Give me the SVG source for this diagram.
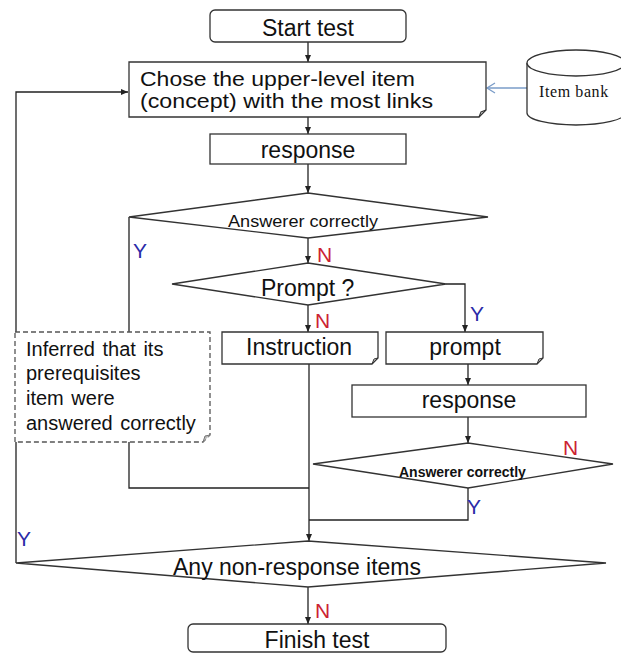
<svg xmlns="http://www.w3.org/2000/svg" width="621" height="653" viewBox="0 0 621 653">
<defs>
<marker id="ah" markerWidth="8" markerHeight="8" refX="7" refY="4" orient="auto" markerUnits="userSpaceOnUse">
<path d="M0,1 L7,4 L0,7 Z" fill="#222"/>
</marker>
<style>
.box{fill:#fff;stroke:#333;stroke-width:1.3}
.ln{fill:none;stroke:#222;stroke-width:1.3}
.t{font-family:"Liberation Sans",Arial,sans-serif;font-size:23px;fill:#111}
.s{font-family:"Liberation Sans",Arial,sans-serif;font-size:20px;fill:#111}
.y{font-family:"Liberation Sans",Arial,sans-serif;font-size:21px;fill:#2b2ba8}
.n{font-family:"Liberation Sans",Arial,sans-serif;font-size:21px;fill:#cc2233}
</style>
</defs>
<rect width="621" height="653" fill="#fff"/>
<g id="connectors">
<line class="ln" x1="308" y1="42" x2="308" y2="62" marker-end="url(#ah)"/>
<line class="ln" x1="308" y1="117" x2="308" y2="134" marker-end="url(#ah)"/>
<line class="ln" x1="308" y1="164" x2="308" y2="193" marker-end="url(#ah)"/>
<line x1="527" y1="88" x2="487" y2="88" stroke="#7a9cc8" stroke-width="1.3"/>
<polyline points="495,83 487,88 495,93" fill="none" stroke="#7a9cc8" stroke-width="1.3"/>
<line class="ln" x1="308" y1="238" x2="308" y2="263" marker-end="url(#ah)"/>
<line class="ln" x1="308" y1="305" x2="308" y2="332" marker-end="url(#ah)"/>
<polyline class="ln" points="446,284 465,284 465,332" marker-end="url(#ah)"/>
<line class="ln" x1="468" y1="364" x2="468" y2="385" marker-end="url(#ah)"/>
<line class="ln" x1="468" y1="417" x2="468" y2="443" marker-end="url(#ah)"/>
<polyline class="ln" points="129,217 129,488 309,488"/>
<line class="ln" x1="309" y1="364" x2="309" y2="541" marker-end="url(#ah)"/>
<polyline class="ln" points="468,488 468,520 309,520"/>
<polyline class="ln" points="16,563 16,92 128,92" marker-end="url(#ah)"/>
<line class="ln" x1="308" y1="587" x2="308" y2="624" marker-end="url(#ah)"/>
</g>
<g id="start"><rect class="box" x="210" y="10" width="196" height="32" rx="5"/><text class="t" x="308" y="36" text-anchor="middle">Start test</text></g>
<g id="choose"><path class="box" d="M129,62 H486 V110 L479,117 H129 Z"/><path d="M479,117 L481,112 L486,110" fill="none" stroke="#333" stroke-width="1.1"/>
<text class="t" style="font-size:21px" x="140" y="86" textLength="275" lengthAdjust="spacingAndGlyphs">Chose the upper-level item</text><text class="t" style="font-size:21px" x="140" y="108" textLength="293" lengthAdjust="spacingAndGlyphs">(concept) with the most links</text></g>
<g id="itembank"><path class="box" d="M527,63 V113 A49,12 0 0 0 625,113 V63"/><ellipse class="box" cx="576" cy="63" rx="49" ry="13"/>
<text x="539" y="97" font-family="'Liberation Serif','Times New Roman',serif" font-size="16" letter-spacing="0.6" fill="#111">Item bank</text></g>
<g id="response1"><rect class="box" x="210" y="134" width="196" height="30"/><text class="t" x="308" y="158" text-anchor="middle">response</text></g>
<g id="answer1"><polygon class="box" points="308,193 488,217 308,238 129,217"/><text x="228" y="227" font-family="'Liberation Sans',Arial,sans-serif" font-size="17" fill="#111" textLength="150" lengthAdjust="spacingAndGlyphs">Answerer correctly</text></g>
<g id="promptq"><polygon class="box" points="308,263 446,284 308,305 172,284"/><text class="t" x="261" y="296">Prompt ?</text></g>
<g id="inferred"><path d="M15,332 H210 V435 L203,442 H15 Z" fill="#fff" stroke="#555" stroke-width="1.3" stroke-dasharray="5,3"/><path d="M203,442 L205,436 L210,435" fill="#bbb" stroke="#777" stroke-width="1"/>
<text class="s" x="26" y="356" word-spacing="2">Inferred that its</text>
<text class="s" x="26" y="380">prerequisites</text>
<text class="s" x="26" y="405" word-spacing="2">item were</text>
<text class="s" x="26" y="430" word-spacing="2">answered correctly</text></g>
<g id="instruction"><path class="box" d="M222,332 H378 V358 L372,364 H222 Z"/><path d="M372,364 L374,359 L378,358" fill="none" stroke="#333" stroke-width="1"/><text class="t" x="246" y="355">Instruction</text></g>
<g id="prompt"><path class="box" d="M386,332 H543 V358 L537,364 H386 Z"/><path d="M537,364 L539,359 L543,358" fill="none" stroke="#333" stroke-width="1"/><text class="t" x="465" y="355" text-anchor="middle">prompt</text></g>
<g id="response2"><rect class="box" x="352" y="385" width="234" height="32"/><text class="t" x="469" y="408" text-anchor="middle">response</text></g>
<g id="answer2"><polygon class="box" points="468,443 613,464 468,488 313,464"/><text x="399" y="477" font-family="'Liberation Sans',Arial,sans-serif" font-size="14" font-weight="bold" fill="#111">Answerer correctly</text></g>
<g id="anynon"><polygon class="box" points="308,541 606,563 308,587 16,563"/><text class="t" x="173" y="575">Any non-response items</text></g>
<g id="finish"><rect class="box" x="188" y="624" width="258" height="28" rx="5"/><text class="t" x="317" y="648" text-anchor="middle">Finish test</text></g>
<g id="labels">
<text class="y" x="133" y="258">Y</text>
<text class="n" x="317" y="262">N</text>
<text class="n" x="315" y="328">N</text>
<text class="y" x="470" y="321">Y</text>
<text class="n" x="563" y="455">N</text>
<text class="y" x="467" y="514">Y</text>
<text class="y" x="17" y="546">Y</text>
<text class="n" x="315" y="618">N</text>
</g>
</svg>
